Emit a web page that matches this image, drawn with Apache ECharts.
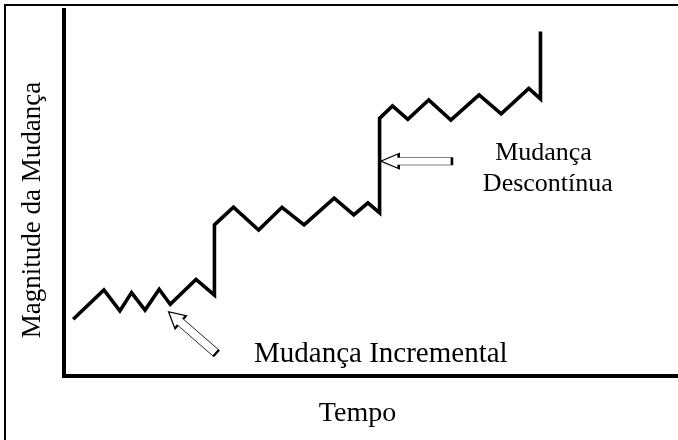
<!DOCTYPE html>
<html>
<head>
<meta charset="utf-8">
<script src="https://cdn.jsdelivr.net/npm/echarts@6/dist/echarts.min.js"></script>
<style>
  html, body { margin: 0; padding: 0; background: #fff; }
  #main { width: 678px; height: 440px; }
</style>
</head>
<body>
<div id="main"></div>
<script>
// tempo (0-100) e magnitude (0-100)
var tempo = [1.5, 6.5, 9.1, 11.0, 13.2, 15.5, 17.3, 21.5, 24.5, 24.5, 27.6, 31.7, 35.5, 39.1,
             44.0, 47.2, 49.5, 51.4, 51.4, 53.5, 56.0, 59.4, 63.0, 67.6, 71.2, 75.7, 77.6, 77.6];
var magnitude = [15.5, 23.5, 17.8, 22.8, 18.0, 23.7, 19.6, 26.4, 22.1, 41.3, 46.1, 39.9, 46.1, 41.3,
                 48.6, 44.0, 47.3, 44.6, 70.4, 73.8, 70.1, 75.4, 69.9, 76.8, 71.6, 78.6, 75.7, 94.1];

// setas (centro, angulo)
var arrowTempo = [20.9, 57.4];
var arrowMagnitude = [11.9, 58.7];
var arrowAngle = [-41, 0];

// rotulos
var labelTempo = [51.6, 78.1, 78.8];
var labelMagnitude = [5.8, 61.0, 52.3];
var labelText = ['Mudança Incremental', 'Mudança', 'Descontínua'];

var xName = 'Tempo';
var yName = 'Magnitude da Mudança';

var lineData = [];
for (var i = 0; i < tempo.length; i++) {
    lineData.push([tempo[i], magnitude[i]]);
}
var arrowPath = 'path://M0,10 L25,0 L25,5 L100,5 L100,15 L25,15 L25,20 Z';
var arrowSizes = [[63, 17], [71, 15]];
var arrowData = [];
for (var i = 0; i < arrowTempo.length; i++) {
    arrowData.push({
        value: [arrowTempo[i], arrowMagnitude[i]],
        symbolRotate: arrowAngle[i],
        symbolSize: arrowSizes[i]
    });
}
var labelSizes = [29, 26, 26];
var labelData = [];
for (var i = 0; i < labelTempo.length; i++) {
    labelData.push({
        value: [labelTempo[i], labelMagnitude[i]],
        label: { fontSize: labelSizes[i] }
    });
}

var chart = echarts.init(document.getElementById('main'));
var font = 'Liberation Serif';
chart.setOption({
    animation: false,
    backgroundColor: '#fff',
    textStyle: { fontFamily: font },
    graphic: [{
        type: 'rect',
        shape: { x: 5, y: 5, width: 700, height: 500 },
        style: { fill: 'none', stroke: '#000', lineWidth: 2 },
        silent: true
    }],
    grid: { left: 64, right: 0, top: 10, bottom: 64 },
    xAxis: {
        type: 'value', min: 0, max: 100,
        name: xName, nameLocation: 'middle', nameGap: 24,
        nameTextStyle: { fontFamily: font, fontSize: 28, color: '#000', padding: [0, 27, 0, 0] },
        axisLine: { lineStyle: { color: '#000', width: 4, cap: 'square' } },
        axisTick: { show: false }, axisLabel: { show: false }, splitLine: { show: false }
    },
    yAxis: {
        type: 'value', min: 0, max: 100,
        name: yName, nameLocation: 'middle', nameGap: 18,
        nameTextStyle: { fontFamily: font, fontSize: 27, color: '#000', padding: [0, 34, 0, 0] },
        axisLine: { lineStyle: { color: '#000', width: 4, cap: 'square' } },
        axisTick: { show: false }, axisLabel: { show: false }, splitLine: { show: false }
    },
    series: [
        {
            type: 'line',
            data: lineData,
            symbol: 'none',
            lineStyle: { color: '#000', width: 3.6, join: 'miter' }
        },
        {
            type: 'scatter',
            data: arrowData,
            symbol: arrowPath,
            itemStyle: { color: '#fff', borderColor: '#000', borderWidth: 1.2, opacity: 1 }
        },
        {
            type: 'scatter',
            data: labelData,
            symbolSize: 0,
            itemStyle: { color: 'rgba(0,0,0,0)', opacity: 1 },
            label: {
                show: true, position: 'inside', formatter: function (p) {
                    return labelText[p.dataIndex];
                },
                fontFamily: font, color: '#000', align: 'center'
            }
        }
    ]
});
</script>
</body>
</html>
